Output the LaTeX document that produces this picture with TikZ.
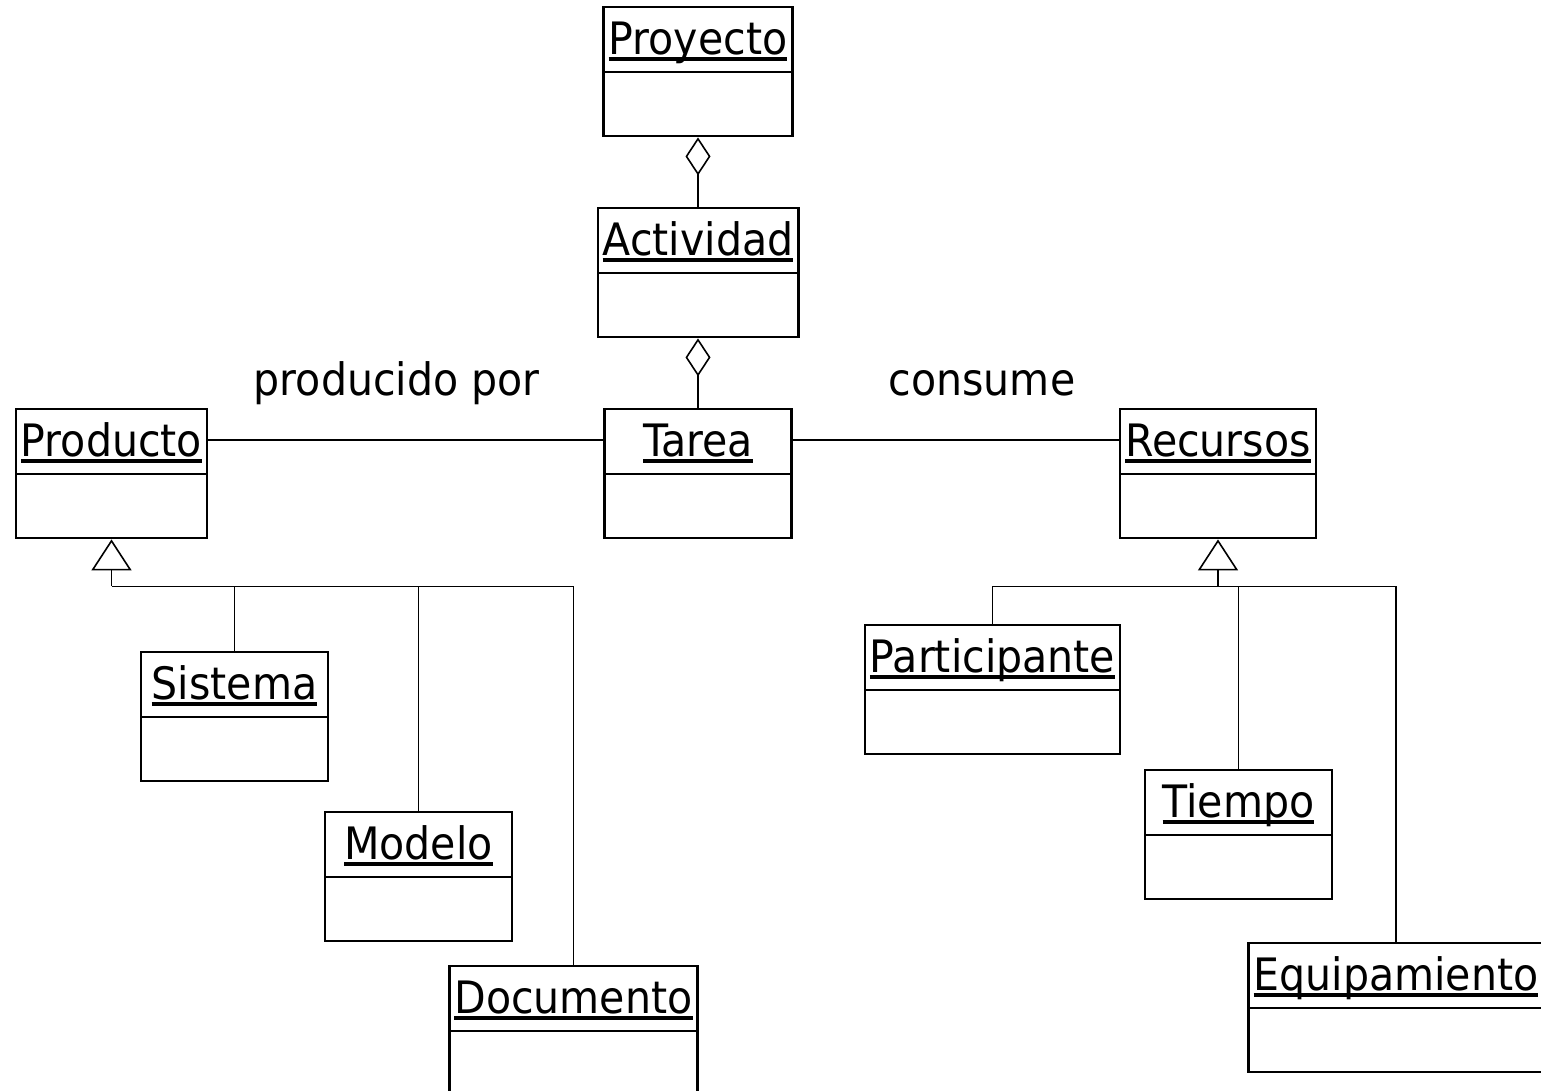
\documentclass[tikz,border=0pt]{standalone}
\usepackage{fontspec}
\setmainfont{DejaVu Sans}[FakeStretch=0.92]
\usepackage{tikz}
\usetikzlibrary{arrows.meta}
\newdimen\pxu
\pxu=0.75pt
% underlined class name
\newcommand{\ulname}[1]{\setbox0=\hbox{#1}\leavevmode\rlap{\rule[-6.5\pxu]{\wd0}{3.5\pxu}}\box0}
\tikzset{
    cls/.style={draw, line width=1.8pt, anchor=north, inner xsep=5\pxu, inner ysep=0pt,
        minimum width=187\pxu, text height=47\pxu, text depth=82\pxu,
        path picture={\draw[line width=1.8pt]
            ([yshift=-65\pxu]path picture bounding box.north west) --
            ([yshift=-65\pxu]path picture bounding box.north east);}},
    line/.style={line width=1.2pt},
    agg/.style={line, {Diamond[open, length=28.5pt, width=18.75pt]}-},
    gen/.style={line, -{Triangle[open, length=23.25pt, width=30pt]}},
    lbl/.style={anchor=base, yshift=45\pxu}
}

\begin{document}
\begin{tikzpicture}[x=0.75pt, y=-0.75pt, font=\fontsize{33.5pt}{40pt}\selectfont]
    \clip (0,0) rectangle (1541,1091);

    % Classes
    \node[cls] (proy) at (698,6) {\ulname{Proyecto}};
    \node[cls] (act) at (698,207) {\ulname{Actividad}};
    \node[cls] (tar) at (698,408) {\ulname{Tarea}};
    \node[cls] (prod) at (111.5,408) {\ulname{Producto}};
    \node[cls] (rec) at (1218,408) {\ulname{Recursos}};
    \node[cls] (sis) at (234.5,651) {\ulname{Sistema}};
    \node[cls] (mod) at (418.5,811) {\ulname{Modelo}};
    \node[cls] (doc) at (573.5,965) {\ulname{Documento}};
    \node[cls] (part) at (992.5,624) {\ulname{Participante}};
    \node[cls] (tiem) at (1238.5,769) {\ulname{Tiempo}};
    \node[cls] (equi) at (1396,942) {\ulname{Equipamiento}};

    % Aggregations
    \draw[agg] (proy.south) -- (act.north);
    \draw[agg] (act.south) -- (tar.north);

    % Associations
    \draw[line] ([yshift=-32\pxu]prod.north east) --
        node[lbl, pos=0.477] {producido por} ([yshift=-32\pxu]tar.north west);
    \draw[line] ([yshift=-32\pxu]tar.north east) --
        node[lbl, pos=0.58] {consume} ([yshift=-32\pxu]rec.north west);

    % Generalizations
    \coordinate (pj) at ([yshift=-47\pxu]prod.south);
    \coordinate (rj) at ([yshift=-47\pxu]rec.south);
    \draw[gen] (pj) -- (prod.south);
    \draw[gen] (rj) -- (rec.south);
    \foreach \c in {sis, mod, doc} {
        \draw[line] (\c.north) |- (pj);
    }
    \foreach \c in {part, tiem, equi} {
        \draw[line] (\c.north) |- (rj);
    }
\end{tikzpicture}
\end{document}
